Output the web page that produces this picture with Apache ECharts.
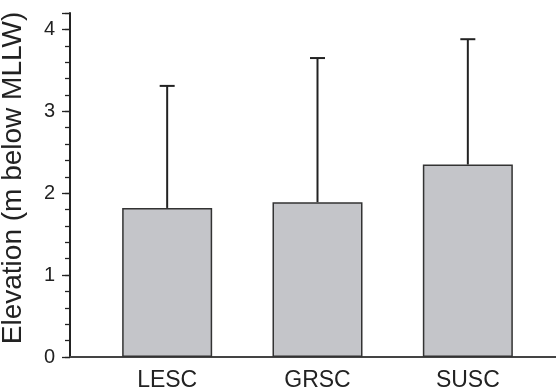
<!DOCTYPE html>
<html>
<head>
<meta charset="utf-8">
<script src="https://cdn.jsdelivr.net/npm/echarts@6/dist/echarts.min.js"></script>
<style>html,body{margin:0;padding:0;background:#fff}#c{width:556px;height:392px}</style>
</head>
<body>
<div id="c"></div>
<script>
const categories = ['LESC', 'GRSC', 'SUSC'];
const means = [1.82, 1.89, 2.35];
const upperErr = [3.31, 3.65, 3.88];
const yTicks = [0, 1, 2, 3, 4];

const font = '"Liberation Sans", Arial, Helvetica, sans-serif';
const chart = echarts.init(document.getElementById('c'), null, {renderer: 'canvas'});
chart.setOption({
  animation: false,
  grid: [
    {left: 70, right: 0, top: 13, bottom: 35, outerBoundsMode: 'none', containLabel: false},
    {left: 92, right: 13, top: 13, bottom: 35, outerBoundsMode: 'none', containLabel: false}
  ],
  xAxis: [
    {gridIndex: 0, type: 'value', min: 0, max: 1, show: true,
     axisLine: {show: true, onZero: false, lineStyle: {color: '#222', width: 2}},
     axisTick: {show: false}, axisLabel: {show: false}, splitLine: {show: false}},
    {gridIndex: 0, type: 'value', min: 0, max: 1, position: 'top',
     axisLine: {show: true, lineStyle: {color: '#444', width: 2}},
     axisTick: {show: false}, axisLabel: {show: false}, splitLine: {show: false}},
    {gridIndex: 1, type: 'category', data: categories,
     axisLine: {show: false}, axisTick: {show: false},
     axisLabel: {color: '#222', fontSize: 23, fontFamily: font, margin: 12},
     splitLine: {show: false}}
  ],
  yAxis: [
    {gridIndex: 0, type: 'value', min: 0, max: 4.2, interval: 1,
     name: 'Elevation (m below MLLW)', nameLocation: 'middle', nameGap: 43,
     nameTextStyle: {color: '#222', fontSize: 28, fontFamily: font, padding: [0, 0, 0, 14]},
     axisLine: {show: true, lineStyle: {color: '#222', width: 2}},
     axisTick: {show: true, length: 8, lineStyle: {color: '#222', width: 1.3}},
     axisLabel: {color: '#222', fontSize: 20, fontFamily: font, margin: 15,
       formatter: v => yTicks.includes(v) ? String(v) : ''},
     splitLine: {show: false}},
    {gridIndex: 1, type: 'value', min: 0, max: 4.2, show: false, splitLine: {show: false}},
    {gridIndex: 0, type: 'value', min: 0, max: 4.2, interval: 0.2, position: 'left',
     axisLine: {show: false},
     axisTick: {show: true, length: 5, lineStyle: {color: '#222', width: 1.3}},
     axisLabel: {show: false}, splitLine: {show: false}}
  ],
  series: [
    {type: 'bar', xAxisIndex: 2, yAxisIndex: 1, data: means, barWidth: 90,
     itemStyle: {color: '#c4c5c9', borderColor: '#333', borderWidth: 1.5}},
    {type: 'custom', xAxisIndex: 2, yAxisIndex: 1,
     data: categories.map((c, i) => [i, means[i], upperErr[i]]),
     renderItem: function (params, api) {
       const base = api.coord([api.value(0), api.value(1)]);
       const top = api.coord([api.value(0), api.value(2)]);
       const half = 7.5;
       return {type: 'group', children: [
         {type: 'line', shape: {x1: base[0], y1: base[1], x2: top[0], y2: top[1]},
          style: {stroke: '#222', lineWidth: 2}},
         {type: 'line', shape: {x1: top[0] - half, y1: top[1], x2: top[0] + half, y2: top[1]},
          style: {stroke: '#222', lineWidth: 2}}
       ]};
     }, z: 3}
  ]
});
</script>
</body>
</html>
